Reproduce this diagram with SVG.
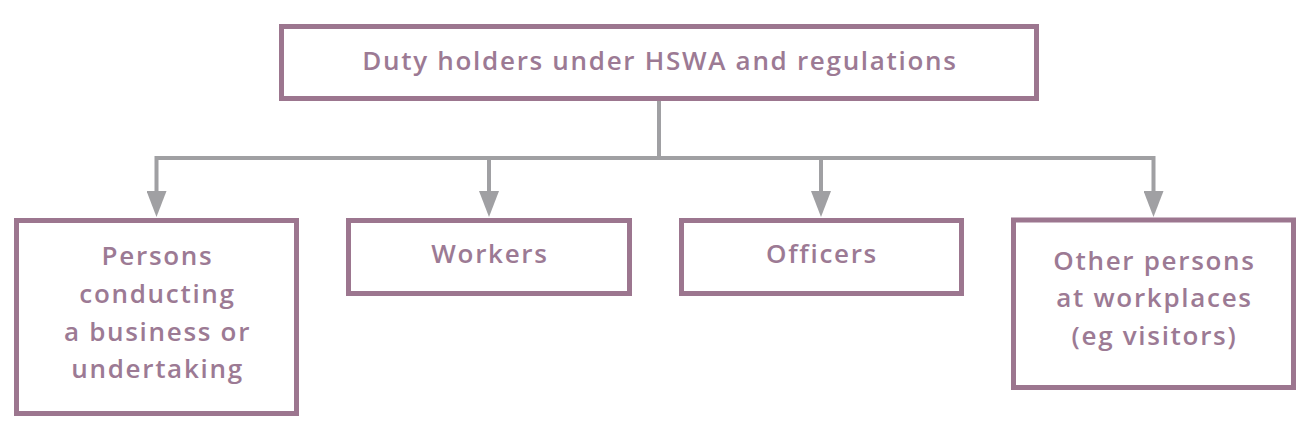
<svg xmlns="http://www.w3.org/2000/svg" width="1309" height="428" viewBox="0 0 1309 428">
<style>
.box{fill:#ffffff;stroke:#9c768f;stroke-width:5}
.lbl{font-family:"Open Sans","Liberation Sans",sans-serif;font-weight:600;font-size:26px;letter-spacing:1.7px;fill:#9c7a94;text-anchor:middle}
.con{fill:none;stroke:#a0a0a3;stroke-width:4;stroke-linejoin:miter}
</style>
<defs>
<marker id="arr" viewBox="0 0 26 20" refX="0" refY="10" markerWidth="26" markerHeight="20" markerUnits="userSpaceOnUse" orient="auto">
<path d="M0,0 L26,10 L0,20 z" fill="#a0a0a3"/>
</marker>
</defs>
<rect width="1309" height="428" fill="#ffffff"/>
<g id="connectors">
<path class="con" d="M659,101 V158"/>
<path class="con" d="M659,158 H156.5 V191" marker-end="url(#arr)"/>
<path class="con" d="M659,158 H489 V191" marker-end="url(#arr)"/>
<path class="con" d="M659,158 H821 V191" marker-end="url(#arr)"/>
<path class="con" d="M659,158 H1153.5 V191" marker-end="url(#arr)"/>
</g>
<g id="root">
<rect class="box" x="281.5" y="26.5" width="755" height="72"/>
<text class="lbl" x="660" y="70">Duty holders under HSWA and regulations</text>
</g>
<g id="pcbu">
<rect class="box" x="16.5" y="220.5" width="280" height="193"/>
<text class="lbl" x="157.5" y="265">Persons</text>
<text class="lbl" x="157.5" y="303">conducting</text>
<text class="lbl" x="157.5" y="341">a business or</text>
<text class="lbl" x="157.5" y="378">undertaking</text>
</g>
<g id="workers">
<rect class="box" x="348.5" y="220.5" width="281" height="73"/>
<text class="lbl" x="490" y="263">Workers</text>
</g>
<g id="officers">
<rect class="box" x="681.5" y="220.5" width="280" height="73"/>
<text class="lbl" x="822" y="263">Officers</text>
</g>
<g id="others">
<rect class="box" x="1013.5" y="220" width="280" height="167.5"/>
<text class="lbl" x="1154.5" y="269.5">Other persons</text>
<text class="lbl" x="1154.5" y="307">at workplaces</text>
<text class="lbl" x="1154.5" y="344.5">(eg visitors)</text>
</g>
</svg>
